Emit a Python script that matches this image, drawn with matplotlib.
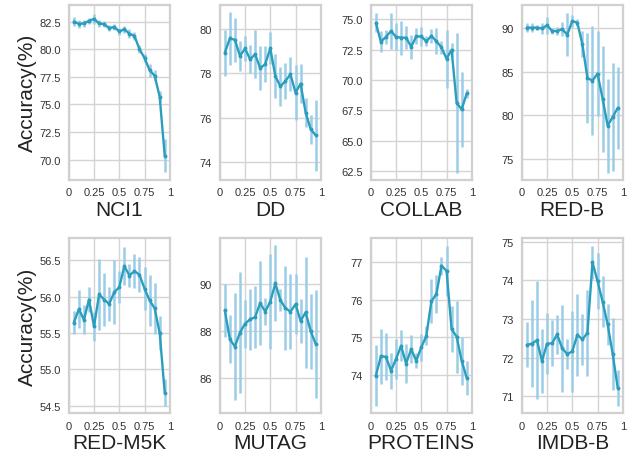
import matplotlib
matplotlib.use("Agg")
import matplotlib.pyplot as plt
import seaborn as sns
import numpy as np

sns.set_style("whitegrid")
plt.rcParams['font.family'] = ['Liberation Sans', 'DejaVu Sans']

# sampling ratios (x axis)
ratios = [0.05, 0.10, 0.15, 0.20, 0.25, 0.30, 0.35, 0.40, 0.45, 0.50,
          0.55, 0.60, 0.65, 0.70, 0.75, 0.80, 0.85, 0.90, 0.95]

names = ["NCI1", "DD", "COLLAB", "RED-B", "RED-M5K", "MUTAG", "PROTEINS", "IMDB-B"]

nci1_mean = [82.5, 82.29, 82.32, 82.56, 82.74, 82.32, 82.26, 81.9, 82.0, 81.6,
             81.8, 81.4, 81.2, 80.0, 79.2, 78.1, 77.6, 75.7, 70.35]
nci1_err = [0.4, 0.35, 0.3, 0.25, 0.45, 0.3, 0.3, 0.3, 0.3, 0.35,
            0.3, 0.4, 0.35, 0.35, 0.4, 0.6, 0.5, 0.5, 1.5]

dd_mean = [78.94, 79.59, 79.52, 78.79, 79.13, 78.64, 78.87, 78.24, 78.42, 79.14,
           77.88, 77.41, 77.66, 77.96, 77.13, 77.54, 76.23, 75.48, 75.2]
dd_err = [1.04, 1.2, 1.0, 0.68, 0.55, 0.63, 1.08, 1.0, 0.8, 0.72,
          1.0, 0.9, 0.83, 0.77, 1.25, 0.87, 0.66, 0.66, 1.6]

collab_mean = [74.73, 73.16, 73.57, 74.04, 73.57, 73.5, 73.5, 72.75, 73.6, 73.6,
               73.2, 73.65, 73.2, 72.7, 71.76, 72.5, 68.1, 67.6, 68.9]
collab_err = [0.8, 0.87, 0.6, 1.5, 1.1, 1.4, 0.96, 1.0, 0.66, 0.8,
              0.4, 0.55, 1.06, 0.55, 2.4, 0.6, 5.8, 3.1, 0.35]

redb_mean = [90.1, 90.08, 90.1, 90.0, 90.35, 89.7, 89.7, 89.92, 89.27, 90.85,
             90.65, 88.15, 84.27, 84.0, 84.8, 81.9, 78.8, 79.8, 80.85]
redb_err = [0.5, 0.5, 0.3, 0.6, 1.0, 0.4, 0.5, 0.77, 2.5, 0.73,
            0.4, 1.5, 5.2, 6.3, 4.9, 6.1, 5.4, 6.2, 4.75]

redm5k_mean = [55.64, 55.83, 55.68, 55.96, 55.59, 56.03, 55.96, 55.9, 56.06, 56.13,
               56.42, 56.29, 56.35, 56.3, 56.11, 55.95, 55.84, 55.5, 54.68]
redm5k_err = [0.16, 0.26, 0.2, 0.17, 0.2, 0.49, 0.36, 0.23, 0.44, 0.22,
              0.26, 0.16, 0.23, 0.24, 0.3, 0.35, 0.35, 0.23, 0.19]

mutag_mean = [88.89, 87.65, 87.34, 87.94, 88.32, 88.5, 88.6, 89.2, 88.83, 89.26,
              90.04, 89.32, 88.98, 88.83, 89.15, 88.44, 88.8, 88.0, 87.45]
mutag_err = [1.14, 1.03, 2.3, 2.6, 1.02, 1.3, 1.33, 1.8, 0.57, 2.04,
             1.62, 0.46, 1.8, 1.6, 1.28, 0.95, 2.38, 1.6, 2.3]

proteins_mean = [73.99, 74.5, 74.49, 74.12, 74.43, 74.78, 74.31, 74.69, 74.38, 74.74,
                 75.04, 75.96, 76.15, 76.9, 76.76, 75.22, 75.02, 74.38, 73.93]
proteins_err = [0.81, 0.73, 0.62, 0.48, 0.54, 0.41, 0.52, 0.37, 0.2, 0.35,
                0.25, 0.58, 0.5, 0.24, 0.67, 0.6, 0.95, 0.64, 0.45]

imdbb_mean = [72.33, 72.36, 72.45, 71.91, 72.36, 72.37, 72.6, 72.24, 72.09, 72.16,
              72.59, 72.47, 72.64, 74.47, 73.98, 73.45, 72.86, 72.09, 71.21]
imdbb_err = [0.58, 1.12, 1.53, 0.82, 0.79, 0.6, 0.51, 1.13, 0.39, 1.06,
             1.07, 0.66, 1.12, 0.42, 0.72, 0.66, 0.54, 0.93, 0.47]

means = [nci1_mean, dd_mean, collab_mean, redb_mean,
         redm5k_mean, mutag_mean, proteins_mean, imdbb_mean]
errs = [nci1_err, dd_err, collab_err, redb_err,
        redm5k_err, mutag_err, proteins_err, imdbb_err]

ylims = [(68.2, 84.0), (73.2, 81.1), (61.8, 76.2), (72.6, 92.7),
         (54.4, 56.8), (84.5, 91.96), (73.0, 77.62), (70.56, 75.09)]
yticks = [[70.0, 72.5, 75.0, 77.5, 80.0, 82.5], [74, 76, 78, 80],
          [62.5, 65.0, 67.5, 70.0, 72.5, 75.0], [75, 80, 85, 90],
          [54.5, 55.0, 55.5, 56.0, 56.5], [86, 88, 90],
          [74, 75, 76, 77], [71, 72, 73, 74, 75]]
ytick_fmt = ["%.1f", "%d", "%.1f", "%d", "%.1f", "%d", "%d", "%d"]

xticks = [0, 0.25, 0.5, 0.75, 1]
xticklabels = ["0", "0.25", "0.5", "0.75", "1"]

fig, axes = plt.subplots(2, 4, figsize=(6.31, 4.56), dpi=100)
fig.subplots_adjust(left=0.109, right=0.987, top=0.987, bottom=0.092,
                    wspace=0.495, hspace=0.337)

for i, ax in enumerate(axes.flat):
    ax.errorbar(ratios, means[i], yerr=errs[i], color="#2b9dbd", ecolor="#9ccde6",
                elinewidth=1.8, capsize=0, linewidth=1.7, marker="o", markersize=1.8)
    ax.set_xlim(0, 1)
    ax.set_ylim(*ylims[i])
    ax.set_xticks(xticks)
    ax.set_xticklabels(xticklabels)
    ax.set_yticks(yticks[i])
    ax.set_yticklabels([ytick_fmt[i] % v for v in yticks[i]])
    ax.tick_params(labelsize=8, colors="#333333", pad=2)
    ax.grid(color="#d4d4d4", linewidth=1.0)
    for sp in ax.spines.values():
        sp.set_visible(True)
        sp.set_color("#d0d0d0")
        sp.set_linewidth(1.6)
    ax.set_xlabel(names[i], fontsize=15, color="#222222", labelpad=2)
    if i % 4 == 0:
        ax.set_ylabel("Accuracy(%)", fontsize=15, color="#222222", labelpad=2)

plt.savefig("out.png", dpi=100)
